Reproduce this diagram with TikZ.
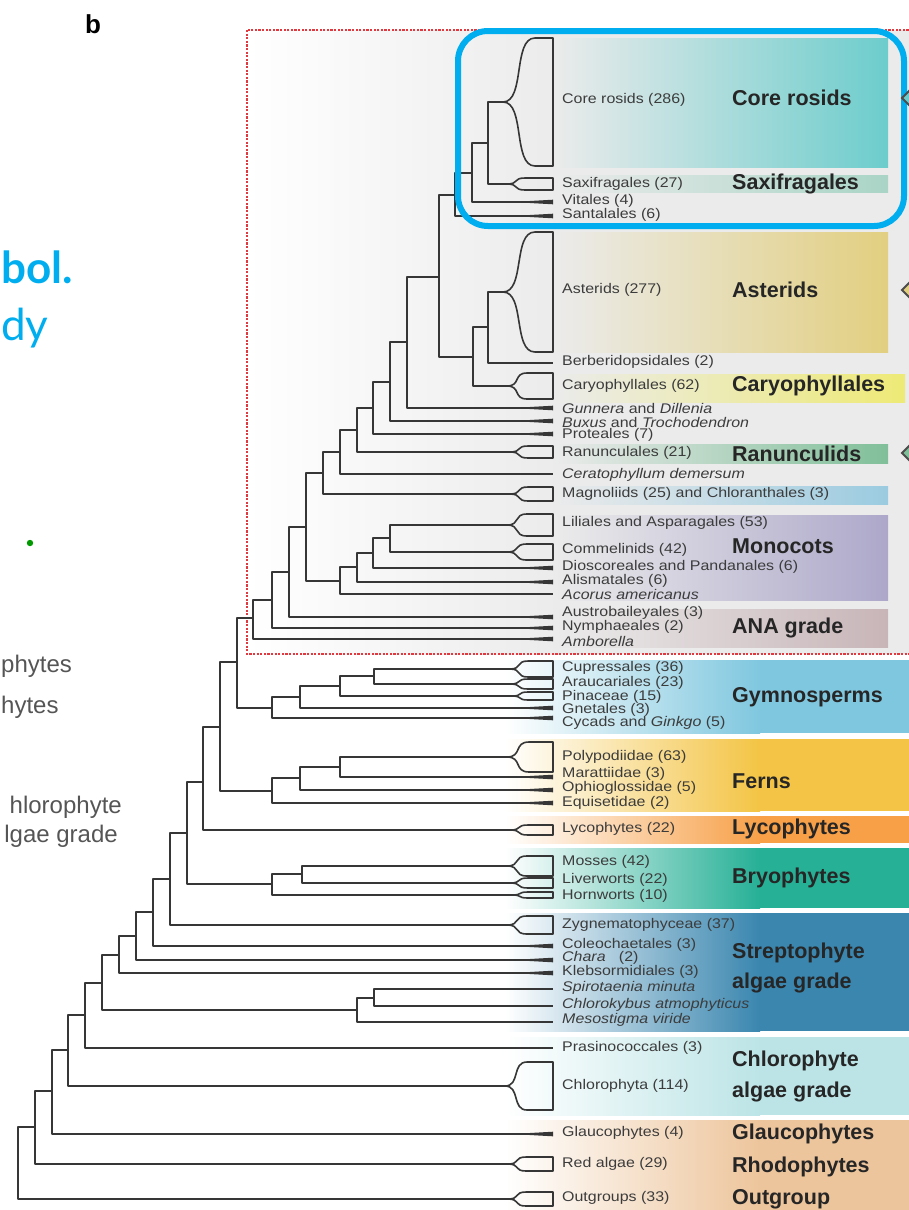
\documentclass[tikz,border=0pt]{standalone}
\usepackage{fontspec}
\setmainfont{Liberation Sans}
\newfontfamily\slidefont{Lato}
\newfontfamily\tipfont[FakeStretch=1.14]{Liberation Sans}
\usetikzlibrary{calc}

\definecolor{branchcol}{HTML}{363636}
\definecolor{labcol}{HTML}{3C3C3C}
\definecolor{boxgrey}{HTML}{EBEBEB}
\definecolor{rosidcol}{HTML}{6CCDCC}
\definecolor{saxicol}{HTML}{A9D4C6}
\definecolor{astercol}{HTML}{E2CF80}
\definecolor{caryocol}{HTML}{EEEA76}
\definecolor{ranuncol}{HTML}{80BF99}
\definecolor{magnocol}{HTML}{9BCBE0}
\definecolor{monocol}{HTML}{ADA8CA}
\definecolor{anacol}{HTML}{C8B5B8}
\definecolor{gymnocol}{HTML}{7FC7DF}
\definecolor{ferncol}{HTML}{F3C445}
\definecolor{lycocol}{HTML}{F7A048}
\definecolor{bryocol}{HTML}{26B096}
\definecolor{streptocol}{HTML}{3A86AF}
\definecolor{chlorocol}{HTML}{BCE4E6}
\definecolor{outcol}{HTML}{EDC59C}
\definecolor{hilite}{HTML}{00AEEF}
\definecolor{redbox}{HTML}{E03A40}
\definecolor{slidegrey}{HTML}{555555}

\def\cladewedge(#1:#2:#3:#4){\draw[branch] (#1,{(#2+#3)/2}) .. controls ({#1+0.7*#4},{(#2+#3)/2}) and ({#1+0.3*#4},#2) .. ({#1+#4},#2) -- (553,#2) -- (553,#3) -- ({#1+#4},#3) .. controls ({#1+0.3*#4},#3) and ({#1+0.7*#4},{(#2+#3)/2}) .. cycle;}
\def\taper(#1){\fill[branchcol] (512,#1) -- (553,{#1-2.3}) -- (553,{#1+2.3}) -- cycle;}
\def\band(#1:#2:#3){\shade[left color=white, right color=#1] (505,#2) rectangle (760,#3); \fill[#1] (760,#2) rectangle (909,#3);}

\begin{document}
\begin{tikzpicture}[x=1pt, y=-1pt,
	branch/.style={draw=branchcol, line width=1.6pt, line join=round},
	tiplab/.style={anchor=west, inner sep=0pt, text=labcol, font=\tipfont\fontsize{14}{14}\selectfont},
	grplab/.style={anchor=west, inner sep=0pt, text=black!85, font=\fontsize{21.5}{22}\selectfont\bfseries},
	slidelab/.style={inner sep=0pt, text=slidegrey, font=\fontsize{24}{24}\selectfont}]
			%%%%% START %%%%%
			
			\useasboundingbox (0,0) rectangle (909,1210);
			\clip (0,0) rectangle (909,1210);
			
			% grey field behind the angiosperms
			\shade[left color=white, right color=boxgrey] (247,30) rectangle (560,654);
			\fill[boxgrey] (560,30) rectangle (909,654);
			
			% coloured bands
			\shade[left color=boxgrey, right color=rosidcol] (555,38) rectangle (888,167);
			\shade[left color=boxgrey, right color=saxicol] (555,175) rectangle (888,192);
			\shade[left color=boxgrey, right color=astercol] (555,232) rectangle (888,352);
			\shade[left color=boxgrey, right color=caryocol] (555,374) rectangle (905,402);
			\shade[left color=boxgrey, right color=ranuncol] (555,444) rectangle (888,463);
			\shade[left color=boxgrey, right color=magnocol] (555,486) rectangle (888,504);
			\shade[left color=boxgrey, right color=monocol] (555,515) rectangle (888,600);
			\shade[left color=boxgrey, right color=anacol] (555,609) rectangle (888,647);
			\band(gymnocol:660:733)
			\band(ferncol:739:811)
			\band(lycocol:816:843)
			\band(bryocol:848:908)
			\band(streptocol:913:1031)
			\band(chlorocol:1037:1115)
			\band(outcol:1120:1210)
			
			\draw[redbox, line width=2.4pt, dash pattern=on 2.2pt off 1.4pt] (247,30) rectangle (915,654);
			
			% tips
			\coordinate (corros) at (503,102);
			\coordinate (saxif) at (507,184);
			\coordinate (vitales) at (553,202);
			\coordinate (santal) at (553,216);
			\coordinate (aster) at (503,292);
			\coordinate (berber) at (553,363);
			\coordinate (caryo) at (507,386);
			\coordinate (gunnera) at (553,408);
			\coordinate (buxus) at (553,421);
			\coordinate (proteal) at (553,434);
			\coordinate (ranunc) at (510,452);
			\coordinate (cerato) at (553,474);
			\coordinate (magnol) at (510,494);
			\coordinate (lilial) at (507,525);
			\coordinate (commel) at (507,552);
			\coordinate (dioscor) at (553,568);
			\coordinate (alismat) at (553,582);
			\coordinate (acorus) at (553,594);
			\coordinate (austrob) at (553,617);
			\coordinate (nymph) at (553,628);
			\coordinate (ambor) at (553,639);
			\coordinate (cupress) at (510,669);
			\coordinate (araucar) at (510,684);
			\coordinate (pinac) at (512,696);
			\coordinate (gnetal) at (553,708);
			\coordinate (cycad) at (553,718);
			\coordinate (polypod) at (507,757);
			\coordinate (maratt) at (553,777);
			\coordinate (ophiog) at (553,790);
			\coordinate (equiset) at (553,803);
			\coordinate (lyco) at (510,830);
			\coordinate (mosses) at (507,866);
			\coordinate (liverw) at (510,883);
			\coordinate (hornw) at (512,895);
			\coordinate (zygnem) at (507,925);
			\coordinate (coleoch) at (553,946);
			\coordinate (chara) at (553,960);
			\coordinate (klebs) at (553,973);
			\coordinate (spirot) at (553,989);
			\coordinate (chlorok) at (553,1006);
			\coordinate (mesost) at (553,1022);
			\coordinate (prasin) at (553,1048);
			\coordinate (chlphyta) at (505,1086);
			\coordinate (glauco) at (553,1134);
			\coordinate (redalg) at (508,1164);
			\coordinate (outgr) at (508,1199);
			
			% inner nodes
			\coordinate (r1) at (488,143);
			\coordinate (r2) at (472,173);
			\coordinate (r3) at (455,195);
			\coordinate (a1) at (488,327);
			\coordinate (a2) at (473,357);
			\coordinate (sa) at (439,277);
			\coordinate (e1) at (407,342);
			\coordinate (e2) at (390,382);
			\coordinate (e3) at (373,408);
			\coordinate (e4) at (357,430);
			\coordinate (e5) at (340,452);
			\coordinate (e6) at (323,473);
			\coordinate (m1) at (390,538);
			\coordinate (m2) at (373,553);
			\coordinate (m3) at (357,567);
			\coordinate (m4) at (340,581);
			\coordinate (n0) at (306,527);
			\coordinate (n1) at (289,572);
			\coordinate (n2) at (272,600);
			\coordinate (ang) at (253,618);
			\coordinate (g4) at (374,676);
			\coordinate (g3) at (340,686);
			\coordinate (g2) at (300,697);
			\coordinate (gy) at (272,708);
			\coordinate (sp) at (237,662);
			\coordinate (f3) at (340,767);
			\coordinate (f2) at (300,778);
			\coordinate (fe) at (272,791);
			\coordinate (tr) at (220,727);
			\coordinate (eu) at (203,782);
			\coordinate (b2) at (302,874);
			\coordinate (br) at (272,884);
			\coordinate (lp) at (187,833);
			\coordinate (zg) at (170,879);
			\coordinate (co) at (153,912);
			\coordinate (ch) at (136,936);
			\coordinate (kl) at (119,955);
			\coordinate (sc) at (374,998);
			\coordinate (mc) at (357,1010);
			\coordinate (st) at (102,983);
			\coordinate (pr) at (85,1015);
			\coordinate (cp) at (68,1050);
			\coordinate (gl) at (52,1091);
			\coordinate (ra) at (35,1127);
			\coordinate (root) at (18,1163);
			
			% branches
			\draw[branch] (r1) |- (corros) (r1) |- (saxif);
			\draw[branch] (r2) |- (r1) (r2) |- (vitales);
			\draw[branch] (r3) |- (r2) (r3) |- (santal);
			\draw[branch] (a1) |- (aster) (a1) |- (berber);
			\draw[branch] (a2) |- (a1) (a2) |- (caryo);
			\draw[branch] (sa) |- (r3) (sa) |- (a2);
			\draw[branch] (e1) |- (sa) (e1) |- (gunnera);
			\draw[branch] (e2) |- (e1) (e2) |- (buxus);
			\draw[branch] (e3) |- (e2) (e3) |- (proteal);
			\draw[branch] (e4) |- (e3) (e4) |- (ranunc);
			\draw[branch] (e5) |- (e4) (e5) |- (cerato);
			\draw[branch] (e6) |- (e5) (e6) |- (magnol);
			\draw[branch] (m1) |- (lilial) (m1) |- (commel);
			\draw[branch] (m2) |- (m1) (m2) |- (dioscor);
			\draw[branch] (m3) |- (m2) (m3) |- (alismat);
			\draw[branch] (m4) |- (m3) (m4) |- (acorus);
			\draw[branch] (n0) |- (e6) (n0) |- (m4);
			\draw[branch] (n1) |- (n0) (n1) |- (austrob);
			\draw[branch] (n2) |- (n1) (n2) |- (nymph);
			\draw[branch] (ang) |- (n2) (ang) |- (ambor);
			\draw[branch] (g4) |- (cupress) (g4) |- (araucar);
			\draw[branch] (g3) |- (g4) (g3) |- (pinac);
			\draw[branch] (g2) |- (g3) (g2) |- (gnetal);
			\draw[branch] (gy) |- (g2) (gy) |- (cycad);
			\draw[branch] (sp) |- (ang) (sp) |- (gy);
			\draw[branch] (f3) |- (polypod) (f3) |- (maratt);
			\draw[branch] (f2) |- (f3) (f2) |- (ophiog);
			\draw[branch] (fe) |- (f2) (fe) |- (equiset);
			\draw[branch] (tr) |- (sp) (tr) |- (fe);
			\draw[branch] (eu) |- (tr) (eu) |- (lyco);
			\draw[branch] (b2) |- (mosses) (b2) |- (liverw);
			\draw[branch] (br) |- (b2) (br) |- (hornw);
			\draw[branch] (lp) |- (eu) (lp) |- (br);
			\draw[branch] (zg) |- (lp) (zg) |- (zygnem);
			\draw[branch] (co) |- (zg) (co) |- (coleoch);
			\draw[branch] (ch) |- (co) (ch) |- (chara);
			\draw[branch] (kl) |- (ch) (kl) |- (klebs);
			\draw[branch] (sc) |- (spirot) (sc) |- (chlorok);
			\draw[branch] (mc) |- (sc) (mc) |- (mesost);
			\draw[branch] (st) |- (kl) (st) |- (mc);
			\draw[branch] (pr) |- (st) (pr) |- (prasin);
			\draw[branch] (cp) |- (pr) (cp) |- (chlphyta);
			\draw[branch] (gl) |- (cp) (gl) |- (glauco);
			\draw[branch] (ra) |- (gl) (ra) |- (redalg);
			\draw[branch] (root) |- (ra) (root) |- (outgr);
			
			% collapsed clades
			\cladewedge(503:38:166:32)
			\cladewedge(507:178:190:18)
			\cladewedge(503:232:352:32)
			\cladewedge(507:373:399:20)
			\cladewedge(510:446:458:18)
			\cladewedge(510:487:501:18)
			\cladewedge(507:514:536:20)
			\cladewedge(507:544:560:20)
			\cladewedge(510:661:677:18)
			\cladewedge(510:679:689:18)
			\cladewedge(512:692:700:16)
			\cladewedge(507:742:772:22)
			\cladewedge(510:825:835:18)
			\cladewedge(507:856:876:20)
			\cladewedge(510:878:888:18)
			\cladewedge(512:892:898:16)
			\cladewedge(507:916:934:20)
			\cladewedge(505:1062:1110:22)
			\cladewedge(508:1157:1171:18)
			\cladewedge(508:1192:1206:18)
			
			\taper(202) \taper(216) \taper(408) \taper(421) \taper(434)
			\taper(568) \taper(582) \taper(617) \taper(628) \taper(639)
			\taper(708) \taper(718) \taper(777) \taper(790) \taper(803)
			\taper(946) \taper(960) \taper(973) \taper(1134)
			
			% tip labels
			\node[tiplab] (l-corros) at (562,100) {Core rosids (286)};
			\node[tiplab] (l-saxif) at (562,184) {Saxifragales (27)};
			\node[tiplab] (l-vitales) at (562,201) {Vitales (4)};
			\node[tiplab] (l-santal) at (562,215) {Santalales (6)};
			\node[tiplab] (l-aster) at (562,290) {Asterids (277)};
			\node[tiplab] (l-berber) at (562,362) {Berberidopsidales (2)};
			\node[tiplab] (l-caryo) at (562,386) {Caryophyllales (62)};
			\node[tiplab] (l-gunnera) at (562,408) {\textit{Gunnera} and \textit{Dillenia}};
			\node[tiplab] (l-buxus) at (562,422) {\textit{Buxus} and \textit{Trochodendron}};
			\node[tiplab] (l-proteal) at (562,435) {Proteales (7)};
			\node[tiplab] (l-ranunc) at (562,453) {Ranunculales (21)};
			\node[tiplab] (l-cerato) at (562,475) {\textit{Ceratophyllum demersum}};
			\node[tiplab] (l-magnol) at (562,494) {Magnoliids (25) and Chloranthales (3)};
			\node[tiplab] (l-lilial) at (562,523) {Liliales and Asparagales (53)};
			\node[tiplab] (l-commel) at (562,550) {Commelinids (42)};
			\node[tiplab] (l-dioscor) at (562,567) {Dioscoreales and Pandanales (6)};
			\node[tiplab] (l-alismat) at (562,581) {Alismatales (6)};
			\node[tiplab] (l-acorus) at (562,594) {\textit{Acorus americanus}};
			\node[tiplab] (l-austrob) at (562,613) {Austrobaileyales (3)};
			\node[tiplab] (l-nymph) at (562,627) {Nymphaeales (2)};
			\node[tiplab] (l-ambor) at (562,641) {\textit{Amborella}};
			\node[tiplab] (l-cupress) at (562,668) {Cupressales (36)};
			\node[tiplab] (l-araucar) at (562,683) {Araucariales (23)};
			\node[tiplab] (l-pinac) at (562,697) {Pinaceae (15)};
			\node[tiplab] (l-gnetal) at (562,710) {Gnetales (3)};
			\node[tiplab] (l-cycad) at (562,723) {Cycads and \textit{Ginkgo} (5)};
			\node[tiplab] (l-polypod) at (562,757) {Polypodiidae (63)};
			\node[tiplab] (l-maratt) at (562,774) {Marattiidae (3)};
			\node[tiplab] (l-ophiog) at (562,788) {Ophioglossidae (5)};
			\node[tiplab] (l-equiset) at (562,803) {Equisetidae (2)};
			\node[tiplab] (l-lyco) at (562,829) {Lycophytes (22)};
			\node[tiplab] (l-mosses) at (562,862) {Mosses (42)};
			\node[tiplab] (l-liverw) at (562,880) {Liverworts (22)};
			\node[tiplab] (l-hornw) at (562,896) {Hornworts (10)};
			\node[tiplab] (l-zygnem) at (562,925) {Zygnematophyceae (37)};
			\node[tiplab] (l-coleoch) at (562,945) {Coleochaetales (3)};
			\node[tiplab] (l-chara) at (562,958) {\textit{Chara}\ \ \ (2)};
			\node[tiplab] (l-klebs) at (562,972) {Klebsormidiales (3)};
			\node[tiplab] (l-spirot) at (562,988) {\textit{Spirotaenia minuta}};
			\node[tiplab] (l-chlorok) at (562,1005) {\textit{Chlorokybus atmophyticus}};
			\node[tiplab] (l-mesost) at (562,1020) {\textit{Mesostigma viride}};
			\node[tiplab] (l-prasin) at (562,1048) {Prasinococcales (3)};
			\node[tiplab] (l-chlphyta) at (562,1086) {Chlorophyta (114)};
			\node[tiplab] (l-glauco) at (562,1133) {Glaucophytes (4)};
			\node[tiplab] (l-redalg) at (562,1164) {Red algae (29)};
			\node[tiplab] (l-outgr) at (562,1198) {Outgroups (33)};
			
			% group labels
			\node[grplab] (g-rosid) at (732,98) {Core rosids};
			\node[grplab] (g-saxif) at (732,184) {Saxifragales};
			\node[grplab] (g-aster) at (732,290) {Asterids};
			\node[grplab] (g-caryo) at (732,386) {Caryophyllales};
			\node[grplab] (g-ranunc) at (732,454) {Ranunculids};
			\node[grplab] (g-mono) at (732,546) {Monocots};
			\node[grplab] (g-ana) at (732,628) {ANA grade};
			\node[grplab] (g-gymno) at (732,697) {Gymnosperms};
			\node[grplab] (g-fern) at (732,781) {Ferns};
			\node[grplab] (g-lyco) at (732,829) {Lycophytes};
			\node[grplab] (g-bryo) at (732,878) {Bryophytes};
			\node[grplab] (g-strep1) at (732,953) {Streptophyte};
			\node[grplab] (g-strep2) at (732,983) {algae grade};
			\node[grplab] (g-chlor1) at (732,1061) {Chlorophyte};
			\node[grplab] (g-chlor2) at (732,1092) {algae grade};
			\node[grplab] (g-glauco) at (732,1134) {Glaucophytes};
			\node[grplab] (g-rhodo) at (732,1167) {Rhodophytes};
			\node[grplab] (g-outgr) at (732,1199) {Outgroup};
			
			% highlight and side markers
			\draw[hilite, line width=6pt, rounded corners=30pt] (458,31) rectangle (904,226);
			\filldraw[fill=rosidcol, draw=black!70, line width=1.8pt] (902,98) -- (909,91) -- (916,98) -- (909,105) -- cycle;
			\filldraw[fill=astercol, draw=black!70, line width=1.8pt] (902,290) -- (909,283) -- (916,290) -- (909,297) -- cycle;
			\filldraw[fill=ranuncol, draw=black!70, line width=1.8pt] (902,453) -- (909,446) -- (916,453) -- (909,460) -- cycle;
			
			% panel letter and slide text at the left
			\node[anchor=base west, inner sep=0pt, font=\fontsize{26}{26}\selectfont\bfseries] (panel) at (85,33) {b};
			\node[anchor=base west, inner sep=0pt, text=hilite, font=\slidefont\fontsize{44}{44}\selectfont\bfseries] (s-bol) at (1,283) {bol.};
			\node[anchor=base west, inner sep=0pt, text=hilite, font=\slidefont\fontsize{44}{44}\selectfont] (s-dy) at (1,340) {dy};
			\fill[green!60!black] (30,543) circle (3.2);
			\node[slidelab, anchor=base west] (s-phy1) at (1,672) {phytes};
			\node[slidelab, anchor=base west] (s-phy2) at (1,713) {hytes};
			\node[slidelab, anchor=base east] (s-chl1) at (122,813) {hlorophyte};
			\node[slidelab, anchor=base east] (s-chl2) at (118,842) {lgae grade};
			
			%%%%% END %%%%%
\end{tikzpicture}
\end{document}
